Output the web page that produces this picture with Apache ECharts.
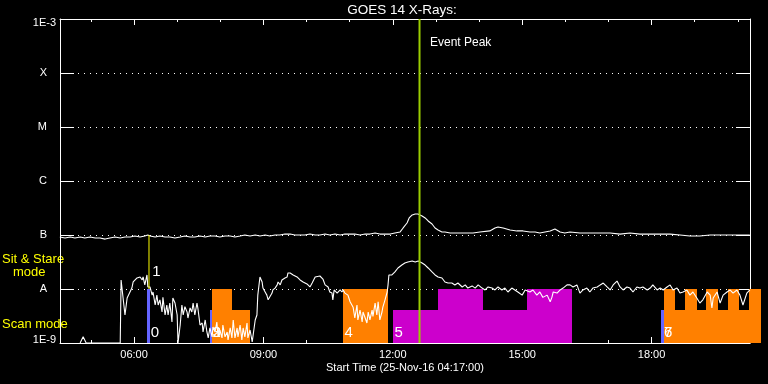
<!DOCTYPE html>
<html>
<head>
<meta charset="utf-8">
<script src="https://cdn.jsdelivr.net/npm/echarts@6/dist/echarts.min.js"></script>
<style>html,body{margin:0;padding:0;background:#000}#c{width:768px;height:384px}</style>
</head>
<body>
<div id="c"></div>
<script>
// ---- data ----
const startHour = 4 + 17 / 60;          // 04:17
const endHour = 20 + 17 / 60;           // 20:17
const majorHours = [6, 9, 12, 15, 18];
const minorHours = [5, 7, 8, 10, 11, 13, 14, 16, 17, 19, 20];
const yTickLabels = ['1E-9', 'A', 'B', 'C', 'M', 'X', '1E-3'];
const eventPeakHour = 12.62;
const sitStareMarker = [[6.347, 1.0e-7], [6.347, 1.0e-8]];

// GOES long channel (1-8 A), W/m^2
const longChannel = [
[4.28,9.2e-8],[4.40,8.8e-8],[4.52,9.2e-8],[4.63,8.8e-8],[4.75,9.2e-8],[4.86,8.8e-8],[4.98,9.2e-8],[5.10,8.8e-8],
[5.21,8.8e-8],[5.33,8.4e-8],[5.44,8.8e-8],[5.56,9.2e-8],[5.68,8.8e-8],[5.79,9.2e-8],[5.91,9.2e-8],[6.02,9.6e-8],
[6.14,9.2e-8],[6.25,9.6e-8],[6.32,1.0e-7],[6.37,9.6e-8],[6.49,9.2e-8],[6.60,9.6e-8],[6.72,9.2e-8],[6.83,9.2e-8],
[6.95,8.8e-8],[7.07,9.2e-8],[7.18,9.6e-8],[7.30,9.2e-8],[7.41,9.2e-8],[7.53,9.6e-8],[7.65,9.2e-8],[7.76,9.6e-8],
[7.88,9.6e-8],[7.99,9.2e-8],[8.11,9.6e-8],[8.23,9.6e-8],[8.34,9.2e-8],[8.46,9.6e-8],[8.57,1.0e-7],[8.69,9.6e-8],
[8.81,1.0e-7],[8.92,9.6e-8],[9.04,1.0e-7],[9.15,9.6e-8],[9.27,1.0e-7],[9.38,1.0e-7],[9.50,1.04e-7],[9.62,1.04e-7],
[9.73,1.0e-7],[9.85,1.0e-7],[9.96,1.0e-7],[10.08,1.04e-7],[10.20,1.0e-7],[10.31,1.0e-7],[10.43,1.04e-7],[10.54,1.0e-7],
[10.66,1.04e-7],[10.78,1.0e-7],[10.89,1.04e-7],[11.01,1.04e-7],[11.12,1.04e-7],[11.24,1.0e-7],[11.36,1.04e-7],[11.47,1.04e-7],
[11.59,1.09e-7],[11.70,1.04e-7],[11.82,1.04e-7],[11.94,1.04e-7],[12.05,1.09e-7],[12.17,1.14e-7],[12.24,1.35e-7],[12.33,1.67e-7],
[12.38,2.07e-7],[12.45,2.35e-7],[12.52,2.45e-7],[12.58,2.45e-7],[12.68,2.25e-7],[12.75,2.07e-7],[12.82,1.82e-7],[12.91,1.60e-7],
[12.98,1.35e-7],[13.05,1.24e-7],[13.14,1.14e-7],[13.21,1.14e-7],[13.33,1.09e-7],[13.49,1.09e-7],[13.68,1.09e-7],[13.86,1.09e-7],
[14.02,1.14e-7],[14.25,1.19e-7],[14.37,1.35e-7],[14.44,1.41e-7],[14.56,1.35e-7],[14.72,1.24e-7],[14.88,1.19e-7],[15.02,1.19e-7],
[15.18,1.14e-7],[15.30,1.14e-7],[15.41,1.09e-7],[15.53,1.14e-7],[15.65,1.19e-7],[15.76,1.29e-7],[15.88,1.14e-7],[15.99,1.09e-7],
[16.11,1.14e-7],[16.34,1.09e-7],[16.57,1.09e-7],[16.81,1.09e-7],[17.04,1.09e-7],[17.27,1.04e-7],[17.50,1.09e-7],[17.73,1.04e-7],
[17.96,1.04e-7],[18.20,1.04e-7],[18.43,1.04e-7],[18.66,1.0e-7],[18.89,9.6e-8],[19.12,9.6e-8],[19.36,1.0e-7],[19.59,1.0e-7],
[19.82,1.0e-7],[20.05,1.0e-7],[20.28,1.0e-7]
];

// GOES short channel (0.5-4 A), W/m^2
const shortChannel = [
[4.75,1.0e-9],[4.82,1.3e-9],[4.89,1.0e-9],[5.68,1.0e-9],[5.70,1.47e-8],[5.74,1.47e-8],[5.79,3.3e-9],[5.84,6.8e-9],
[5.88,6.3e-9],[5.95,1.04e-8],[5.98,1.35e-8],[6.02,1.35e-8],[6.07,1.6e-8],[6.14,1.67e-8],[6.19,1.47e-8],[6.21,1.67e-8],
[6.25,1.19e-8],[6.30,1.82e-8],[6.32,1.09e-8],[6.37,1.09e-8],[6.42,7.7e-9],[6.44,8.8e-9],[6.49,5.05e-9],[6.53,7.7e-9],
[6.56,5.05e-9],[6.60,6.3e-9],[6.65,3.75e-9],[6.67,7.0e-9],[6.72,3.3e-9],[6.76,5.05e-9],[6.79,3.3e-9],[6.83,5.5e-9],
[6.88,2.45e-9],[6.90,6.8e-9],[6.95,5.5e-9],[7.00,3.3e-9],[7.02,1.0e-9],[7.07,2.15e-9],[7.11,5.05e-9],[7.14,3.3e-9],
[7.18,4.7e-9],[7.23,3.75e-9],[7.25,2.9e-9],[7.30,4.45e-9],[7.34,3.75e-9],[7.37,5.5e-9],[7.41,3.3e-9],[7.46,5.5e-9],
[7.48,4.45e-9],[7.53,2.15e-9],[7.58,2.35e-9],[7.60,1.6e-9],[7.65,2.67e-9],[7.69,1.6e-9],[7.72,1.24e-9],[7.76,1.9e-9],
[7.81,1.3e-9],[7.83,1.98e-9],[7.88,1.6e-9],[7.92,2.45e-9],[7.95,1.3e-9],[7.99,1.74e-9],[8.04,1.24e-9],[8.06,2.15e-9],
[8.11,1.3e-9],[8.16,1.6e-9],[8.18,1.14e-9],[8.23,1.9e-9],[8.27,1.24e-9],[8.30,2.67e-9],[8.34,1.24e-9],[8.39,1.9e-9],
[8.41,1.3e-9],[8.46,2.15e-9],[8.50,1.14e-9],[8.53,1.9e-9],[8.57,1.3e-9],[8.62,2.35e-9],[8.64,1.24e-9],[8.69,1.74e-9],
[8.74,1.05e-9],[8.76,1.0e-9],[8.81,2.67e-9],[8.85,3.3e-9],[8.87,7.7e-9],[8.92,1.67e-8],[8.97,1.35e-8],[8.99,1.04e-8],
[9.04,8.8e-9],[9.08,7.7e-9],[9.11,6.3e-9],[9.15,6.8e-9],[9.20,8.4e-9],[9.22,9.6e-9],[9.27,1.04e-8],[9.32,1.19e-8],
[9.34,1.35e-8],[9.39,1.19e-8],[9.43,1.47e-8],[9.45,1.47e-8],[9.50,1.6e-8],[9.55,1.67e-8],[9.57,1.98e-8],[9.62,1.98e-8],
[9.69,1.82e-8],[9.78,1.67e-8],[9.85,1.47e-8],[9.92,1.35e-8],[10.01,1.24e-8],[10.08,1.09e-8],[10.13,1.29e-8],[10.20,1.67e-8],
[10.31,1.74e-8],[10.38,1.53e-8],[10.43,1.19e-8],[10.50,1.09e-8],[10.54,8.8e-9],[10.59,8.4e-9],[10.61,6.3e-9],[10.64,9.6e-9],
[10.71,8.4e-9],[10.78,9.6e-9],[10.82,8.8e-9],[10.85,9.6e-9],[10.89,8.4e-9],[10.96,7.7e-9],[11.01,5.8e-9],[11.05,5.8e-9],
[11.08,4.6e-9],[11.12,2.9e-9],[11.17,5.05e-9],[11.19,2.67e-9],[11.24,4.08e-9],[11.29,2.45e-9],[11.31,3.75e-9],[11.36,2.9e-9],
[11.40,2.35e-9],[11.43,3.75e-9],[11.47,2.67e-9],[11.52,4.08e-9],[11.54,3.1e-9],[11.59,5.5e-9],[11.63,3.3e-9],[11.66,5.8e-9],
[11.70,2.67e-9],[11.75,3.75e-9],[11.77,4.6e-9],[11.82,6.3e-9],[11.87,8.8e-9],[11.89,1.19e-8],[11.91,1.82e-8],[11.98,1.82e-8],
[12.05,2.07e-8],[12.12,2.45e-8],[12.21,2.78e-8],[12.28,3.03e-8],[12.35,3.16e-8],[12.45,3.3e-8],[12.52,3.16e-8],[12.59,3.3e-8],
[12.68,3.03e-8],[12.75,2.78e-8],[12.82,2.45e-8],[12.91,2.07e-8],[12.98,1.82e-8],[13.05,1.67e-8],[13.14,1.6e-8],[13.21,1.35e-8],
[13.28,1.29e-8],[13.37,1.29e-8],[13.44,1.19e-8],[13.51,1.29e-8],[13.61,1.09e-8],[13.68,1.19e-8],[13.74,1.04e-8],[13.84,1.14e-8],
[13.91,1.04e-8],[13.98,1.19e-8],[14.07,1.04e-8],[14.14,9.6e-9],[14.21,1.09e-8],[14.30,1.04e-8],[14.37,9.6e-9],[14.44,1.09e-8],
[14.53,9.6e-9],[14.60,1.04e-8],[14.67,8.8e-9],[14.76,1.04e-8],[14.83,9.6e-9],[14.90,8.8e-9],[15.00,7.7e-9],[15.07,9.6e-9],
[15.11,1.04e-8],[15.18,8.8e-9],[15.25,9.6e-9],[15.34,7.7e-9],[15.41,8.8e-9],[15.48,7.0e-9],[15.58,7.7e-9],[15.65,5.8e-9],
[15.69,7.0e-9],[15.72,8.8e-9],[15.81,8.4e-9],[15.88,9.6e-9],[15.95,1.04e-8],[16.04,1.19e-8],[16.11,1.19e-8],[16.18,1.09e-8],
[16.27,1.19e-8],[16.34,8.4e-9],[16.41,9.6e-9],[16.50,1.04e-8],[16.57,8.8e-9],[16.64,1.04e-8],[16.74,1.09e-8],[16.81,1.19e-8],
[16.88,1.29e-8],[16.97,1.09e-8],[17.04,9.6e-9],[17.11,1.19e-8],[17.20,1.4e-8],[17.27,1.09e-8],[17.34,9.6e-9],[17.43,1.09e-8],
[17.50,1.04e-8],[17.57,8.8e-9],[17.66,1.09e-8],[17.73,1.04e-8],[17.80,1.09e-8],[17.90,9.6e-9],[17.97,1.04e-8],[18.03,1.19e-8],
[18.13,9.6e-9],[18.20,1.04e-8],[18.27,9.6e-9],[18.36,1.09e-8],[18.43,1.19e-8],[18.50,9.6e-9],[18.59,1.04e-8],[18.66,8.4e-9],
[18.73,8.8e-9],[18.82,9.6e-9],[18.89,7.7e-9],[18.96,8.8e-9],[19.05,6.8e-9],[19.12,5.5e-9],[19.19,6.3e-9],[19.29,8.8e-9],
[19.36,7.7e-9],[19.40,4.45e-9],[19.43,6.8e-9],[19.52,8.8e-9],[19.59,5.5e-9],[19.66,7.7e-9],[19.75,8.8e-9],[19.82,9.6e-9],
[19.89,8.4e-9],[19.98,9.6e-9],[20.05,7.7e-9],[20.12,5.05e-9],[20.21,8.4e-9],[20.28,9.6e-9]
];

// observing mode blocks: [start hour, end hour, top flux, colour index]
const modeColors = ['#ff8000', '#cc00cc', '#6464ff'];
const modeBlocks = [
[6.30, 6.37, 1.0e-8, 2],
[7.76, 7.81, 4.1e-9, 2],
[7.81, 8.265, 1.0e-8, 0],
[8.265, 8.70, 4.1e-9, 0],
[10.846, 11.882, 1.0e-8, 0],
[12.005, 13.042, 4.1e-9, 1],
[13.042, 14.085, 1.0e-8, 1],
[14.085, 15.112, 4.1e-9, 1],
[15.112, 16.156, 1.0e-8, 1],
[18.219, 18.282, 4.1e-9, 2],
[18.282, 18.544, 1.0e-8, 0],
[18.544, 18.776, 4.1e-9, 0],
[18.776, 19.048, 1.0e-8, 0],
[19.048, 19.263, 4.1e-9, 0],
[19.263, 19.541, 1.0e-8, 0],
[19.541, 19.780, 4.1e-9, 0],
[19.780, 20.028, 1.0e-8, 0],
[20.028, 20.260, 4.1e-9, 0],
[20.260, 20.538, 1.0e-8, 0]
];
// pointing numbers: [hour, flux] and their texts
const modeLabelPos = [[6.39, 1.55e-9], [6.42, 2.1e-8], [7.82, 1.55e-9], [7.82, 1.55e-9], [10.88, 1.55e-9], [12.04, 1.55e-9], [18.29, 1.55e-9], [18.29, 1.55e-9]];
const modeLabelText = ['0', '1', '2', '3', '4', '5', '6', '7'];

// ---- chart ----
const FONT = 'Liberation Sans';
const chart = echarts.init(document.getElementById('c'), null, {renderer: 'canvas'});
const white = '#ffffff';
function pad2(v) { return (v < 10 ? '0' : '') + v + ':00'; }
function baseX(pos, values, len, showLine, showLabel) {
  return {
    type: 'value', min: startHour, max: endHour, position: pos,
    axisLine: {show: showLine, onZero: false, lineStyle: {color: white, width: 1}},
    axisTick: {show: true, inside: true, length: len, customValues: values, lineStyle: {color: white, width: 1}},
    axisLabel: {show: showLabel, customValues: values, formatter: pad2, color: white, fontSize: 11, fontFamily: FONT, margin: 6},
    splitLine: {show: false}
  };
}
const option = {
  backgroundColor: '#000000',
  animation: false,
  grid: {left: 60, right: 18, top: 19, bottom: 41, containLabel: false},
  xAxis: [
    baseX('bottom', majorHours, 6, true, true),
    baseX('bottom', minorHours, 3, false, false),
    baseX('top', majorHours, 6, true, false),
    baseX('top', minorHours, 3, false, false)
  ],
  yAxis: [
    {
      type: 'log', logBase: 10, min: 1e-9, max: 1e-3, splitNumber: 6, position: 'left',
      axisLine: {show: true, lineStyle: {color: white, width: 1}},
      axisTick: {show: true, inside: true, length: 14, lineStyle: {color: white, width: 1}},
      axisLabel: {
        color: white, fontSize: 11, fontFamily: FONT, margin: 4,
        formatter: function (v) {
          const e = Math.round(Math.log10(v));
          const t = yTickLabels[e + 9];
          if (e === -3) return '{top|' + t + '}';
          if (e === -9) return '{bot|' + t + '}';
          return '{l|' + t + '}';
        },
        rich: {
          l: {color: white, fontSize: 11, fontFamily: FONT, padding: [0, 9, 0, 0]},
          top: {color: white, fontSize: 11, fontFamily: FONT, padding: [8, 0, 0, 0]},
          bot: {color: white, fontSize: 11, fontFamily: FONT, padding: [0, 0, 6, 0]}
        }
      },
      splitLine: {show: true, lineStyle: {color: white, width: 1, type: [1, 5]}}
    },
    {
      type: 'log', logBase: 10, min: 1e-9, max: 1e-3, splitNumber: 6, position: 'right',
      axisLine: {show: true, lineStyle: {color: white, width: 1}},
      axisTick: {show: true, inside: true, length: 14, lineStyle: {color: white, width: 1}},
      axisLabel: {show: false},
      splitLine: {show: false}
    }
  ],
  series: [
    {
      type: 'custom', name: 'modes', z: 1, clip: false,
      encode: {x: [0, 1], y: 2},
      data: modeBlocks,
      renderItem: function (params, api) {
        const p1 = api.coord([api.value(0), api.value(2)]);
        const p2 = api.coord([api.value(1), 1e-9]);
        const x0 = Math.round(p1[0]), x1 = Math.round(p2[0]);
        const y0 = Math.round(p1[1]), y1 = Math.round(p2[1]);
        return {type: 'rect', shape: {x: x0, y: y0, width: x1 - x0, height: y1 - y0},
                style: {fill: modeColors[api.value(3)]}};
      }
    },
    {
      type: 'line', name: 'long', z: 3, data: longChannel, showSymbol: false, symbol: 'none',
      lineStyle: {color: white, width: 1.1}, silent: true
    },
    {
      type: 'line', name: 'short', z: 3, data: shortChannel, showSymbol: false, symbol: 'none',
      lineStyle: {color: white, width: 1.1}, silent: true
    },
    {
      type: 'line', name: 'sitstare', z: 4, data: sitStareMarker, showSymbol: false, symbol: 'none',
      lineStyle: {color: '#ffff00', width: 1}, silent: true
    },
    {
      type: 'line', name: 'peak', z: 4, data: [[eventPeakHour, 1e-9], [eventPeakHour, 1e-3]], showSymbol: false, symbol: 'none',
      lineStyle: {color: '#9acd00', width: 2}, silent: true
    },
    {
      type: 'custom', name: 'modeLabels', z: 5, clip: false,
      encode: {x: 0, y: 1},
      data: modeLabelPos,
      renderItem: function (params, api) {
        const p = api.coord([api.value(0), api.value(1)]);
        return {type: 'text', x: p[0], y: p[1],
                style: {text: modeLabelText[params.dataIndex], fill: white, font: '15px ' + FONT, align: 'left', verticalAlign: 'middle'}};
      }
    }
  ],
  graphic: [
    {type: 'text', x: 402, y: 10, style: {text: 'GOES 14 X-Rays:', fill: white, font: '13.5px ' + FONT, align: 'center', verticalAlign: 'middle'}},
    {type: 'text', x: 430, y: 43, style: {text: 'Event Peak', fill: white, font: '12px ' + FONT, align: 'left', verticalAlign: 'middle'}},
    {type: 'text', x: 405, y: 368, style: {text: 'Start Time (25-Nov-16 04:17:00)', fill: white, font: '11px ' + FONT, align: 'center', verticalAlign: 'middle'}},
    {type: 'text', x: 2, y: 259, style: {text: 'Sit & Stare', fill: '#ffff00', font: '13px ' + FONT, align: 'left', verticalAlign: 'middle'}},
    {type: 'text', x: 13, y: 272, style: {text: 'mode', fill: '#ffff00', font: '13px ' + FONT, align: 'left', verticalAlign: 'middle'}},
    {type: 'text', x: 2, y: 324, style: {text: 'Scan mode', fill: '#ffff00', font: '13px ' + FONT, align: 'left', verticalAlign: 'middle'}}
  ]
};
chart.setOption(option);
</script>
</body>
</html>
